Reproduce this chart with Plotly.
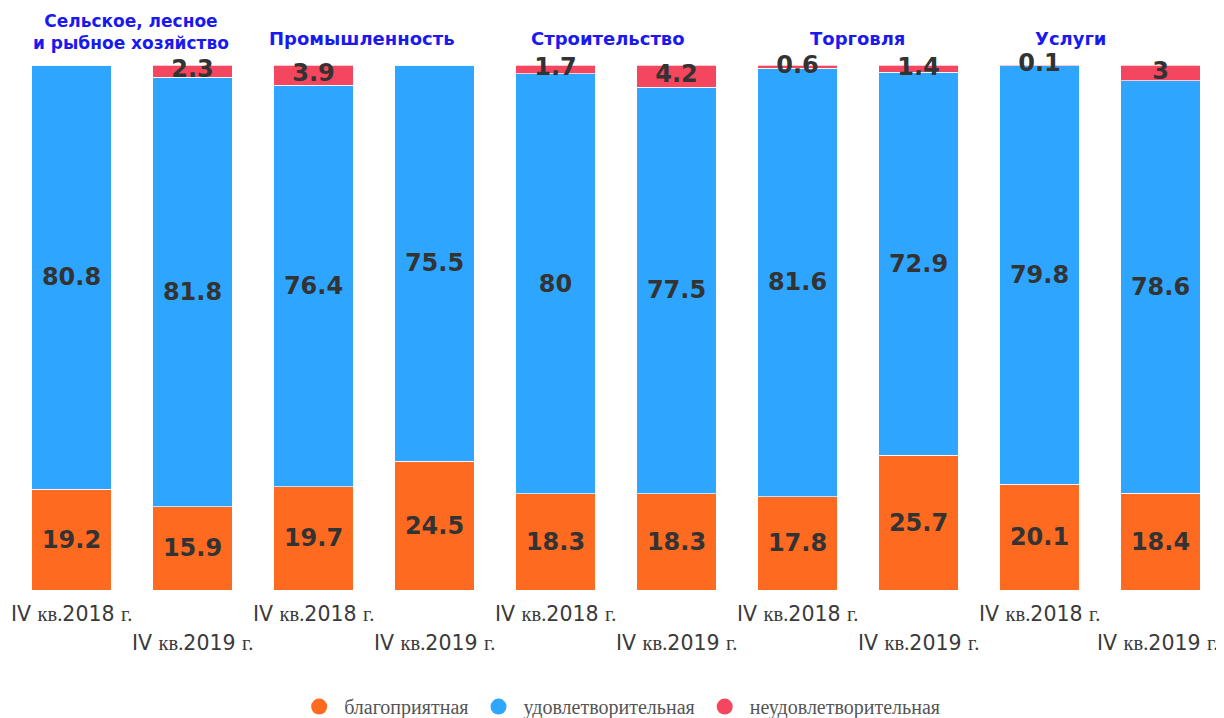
import plotly.graph_objects as go

# данные: 5 отраслей, по два периода
sectors = ["Сельское, лесное<br>и рыбное хозяйство", "Промышленность",
           "Строительство", "Торговля", "Услуги"]
periods = ["2018", "2019"]

favorable = [19.2, 15.9, 19.7, 24.5, 18.3, 18.3, 17.8, 25.7, 20.1, 18.4]
satisfactory = [80.8, 81.8, 76.4, 75.5, 80, 77.5, 81.6, 72.9, 79.8, 78.6]
unsatisfactory = [0, 2.3, 3.9, 0, 1.7, 4.2, 0.6, 1.4, 0.1, 3]

names = ["благоприятная", "удовлетворительная", "неудовлетворительная"]
colors = ["#ff6a21", "#2ea6ff", "#f5465f"]

x = list(range(len(favorable)))
label_font = dict(family="DejaVu Sans", size=24, color="#333333", weight="bold")


def fmt(v):
    if not v:
        return ""
    return f"{v:g}"


fig = go.Figure()
for vals, name, col in zip([favorable, satisfactory, unsatisfactory], names, colors):
    small = vals is unsatisfactory
    fig.add_trace(go.Bar(
        x=x, y=vals, name=name, showlegend=False,
        marker=dict(color=col, line=dict(color="rgba(255,255,255,0.7)", width=1)),
        text=None if small else [fmt(v) for v in vals],
        textposition="inside", textangle=0,
        insidetextanchor="middle", constraintext="none",
        textfont=label_font, hoverinfo="skip",
    ))
    # кружки для легенды
    fig.add_trace(go.Scatter(
        x=[None], y=[None], mode="markers", name=name,
        marker=dict(color=col, size=19, symbol="circle"),
    ))

# подписи для тонких красных сегментов — отдельным текстовым слоем
tops = [f + s for f, s in zip(favorable, satisfactory)]
fig.add_trace(go.Scatter(
    x=x, y=[t + u / 2 for t, u in zip(tops, unsatisfactory)],
    text=[fmt(v) for v in unsatisfactory], mode="text",
    textfont=label_font, cliponaxis=False, showlegend=False, hoverinfo="skip",
))

serif = "font-family:Liberation Serif"
for i in x:
    year = periods[i % 2]
    label = (f"IV <span style='{serif}'>кв.</span>{year} "
             f"<span style='{serif}'>г.</span>")
    fig.add_annotation(
        x=i, y=0, yref="y", text=label, showarrow=False,
        yanchor="middle", yshift=-24 if i % 2 == 0 else -53,
        xshift=-3 if i == x[-1] else 0,
        font=dict(family="DejaVu Sans", size=20.5, color="#3a3a3a"),
    )

header_shift = [-1, -12, -8, -1, -30]
for k, s in enumerate(sectors):
    fig.add_annotation(
        x=2 * k + 0.5, y=1, yref="paper", text=f"<b>{s}</b>", showarrow=False,
        xshift=header_shift[k], yanchor="middle",
        yshift=33 if k == 0 else 27,
        font=dict(family="DejaVu Sans", size=18 if k else 17, color="#1a1af0"),
    )

# страница html даёт отступ 8px, поэтому поля чуть меньше
fig.update_layout(
    width=1216, height=710,
    barmode="stack", bargap=0.347,
    margin=dict(l=3, r=3, t=57, b=128, autoexpand=False),
    plot_bgcolor="white", paper_bgcolor="white",
    legend=dict(orientation="h", x=0.503, xanchor="center", y=-0.222, yanchor="middle",
                font=dict(family="Liberation Serif", size=20, color="#555555"),
                itemwidth=40, traceorder="normal"),
)
fig.update_xaxes(range=[-0.5, 9.5], showticklabels=False, showgrid=False,
                 zeroline=False, showline=False)
fig.update_yaxes(range=[0, 100], showticklabels=False, showgrid=False,
                 zeroline=False, showline=False)

fig.write_html("out.html")
